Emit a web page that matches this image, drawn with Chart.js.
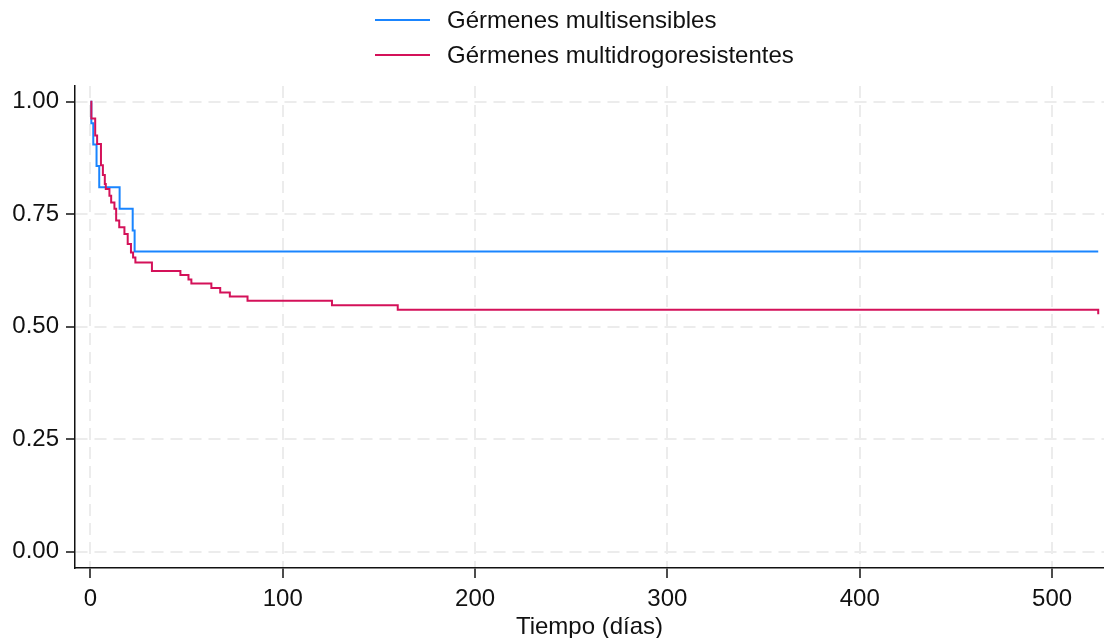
<!DOCTYPE html>
<html>
<head>
<meta charset="utf-8">
<script src="https://cdn.jsdelivr.net/npm/chart.js@4/dist/chart.umd.min.js"></script>
<style>
    body { margin: 0; background: #fff; }
    #wrap { position: relative; width: 1104px; height: 638px; }
    #legend { position: absolute; left: 375px; top: 2px; font-family: "Liberation Sans", Arial, sans-serif; font-size: 24px; color: #111; }
    .item { display: flex; align-items: center; height: 35px; }
    .swatch { width: 55px; height: 2px; margin-right: 17px; }
</style>
</head>
<body>
<div id="wrap">
    <canvas id="km-chart" width="1104" height="638"></canvas>
    <div id="legend"></div>
</div>
<script>
const seriesNames = ['Gérmenes multisensibles', 'Gérmenes multidrogoresistentes']
const seriesColors = ['#1a85ff', '#d41159']

// Gérmenes multisensibles
const msTime = [0, 0.5, 1.5, 3.2, 4.6, 15.2, 22, 23, 524]
const msSurv = [1.0, 0.952, 0.905, 0.857, 0.810, 0.762, 0.714, 0.667, 0.667]

// Gérmenes multidrogoresistentes
const mdrTime = [0, 0.5, 2.5, 3.5, 5.5, 6.5, 7.5, 8.0, 9.9, 10.8, 12.5, 13.4, 15, 17.7, 19.4, 21.1, 22.2, 23.4, 32, 46.8, 51, 52.5, 62.9, 67.5, 72.5, 81.7, 125.6, 159.8, 524, 524]
const mdrSurv = [1.0, 0.963, 0.925, 0.906, 0.859, 0.837, 0.817, 0.806, 0.791, 0.776, 0.762, 0.736, 0.721, 0.706, 0.684, 0.665, 0.654, 0.643, 0.624, 0.615, 0.605, 0.596, 0.586, 0.576, 0.567, 0.558, 0.548, 0.538, 0.538, 0.528]

const xTickValues = [0, 100, 200, 300, 400, 500]
const yTickValues = [0, 0.25, 0.5, 0.75, 1]

const fontFamily = '"Liberation Sans", Arial, sans-serif'
const gridColor = '#ececec'

function toPoints(times, values) {
    return times.map((t, i) => ({ x: t, y: values[i] }))
}

function buildLegend(chart) {
    const box = document.getElementById('legend')
    chart.data.datasets.forEach(ds => {
        const item = document.createElement('div')
        item.className = 'item'
        const swatch = document.createElement('span')
        swatch.className = 'swatch'
        swatch.style.background = ds.borderColor
        const label = document.createElement('span')
        label.textContent = ds.label
        item.appendChild(swatch)
        item.appendChild(label)
        box.appendChild(item)
    })
}

const ctx = document.getElementById('km-chart')

const kmChart = new Chart(ctx, {
    type: 'line',
    data: {
        datasets: [
            // red curve sits on top of the blue one
            { label: seriesNames[0], data: toPoints(msTime, msSurv), borderColor: seriesColors[0], order: 1 },
            { label: seriesNames[1], data: toPoints(mdrTime, mdrSurv), borderColor: seriesColors[1], order: 0 }
        ]
    },
    options: {
        responsive: false,
        animation: false,
        layout: { padding: { top: 86, right: 0, left: 0, bottom: 0 } },
        elements: {
            line: { borderWidth: 2, stepped: true, tension: 0, fill: false },
            point: { radius: 0 }
        },
        plugins: {
            legend: { display: false },
            tooltip: { enabled: false }
        },
        scales: {
            x: {
                type: 'linear',
                min: -8,
                max: 527,
                afterFit: scale => { scale.height = 70 },
                afterBuildTicks: scale => { scale.ticks = xTickValues.map(v => ({ value: v })) },
                ticks: { includeBounds: false, color: '#111', font: { family: fontFamily, size: 24 }, padding: 7, maxRotation: 0 },
                grid: { color: gridColor, lineWidth: 2, tickColor: '#111', tickLength: 10, tickWidth: 1.5 },
                border: { color: '#111', width: 1.5, dash: [12, 7] },
                title: { display: true, text: 'Tiempo (días)', color: '#111', font: { family: fontFamily, size: 24 }, padding: { top: 0, bottom: -4 } }
            },
            y: {
                min: -0.036,
                max: 1.035,
                afterFit: scale => { scale.width = 75 },
                afterBuildTicks: scale => { scale.ticks = yTickValues.map(v => ({ value: v })) },
                ticks: { includeBounds: false, color: '#111', font: { family: fontFamily, size: 24 }, padding: 7, callback: v => v.toFixed(2) },
                grid: { color: gridColor, lineWidth: 2, tickColor: '#111', tickLength: 9, tickWidth: 1.5 },
                border: { color: '#111', width: 1.5, dash: [12, 7] }
            }
        }
    }
})

buildLegend(kmChart)
</script>
</body>
</html>
